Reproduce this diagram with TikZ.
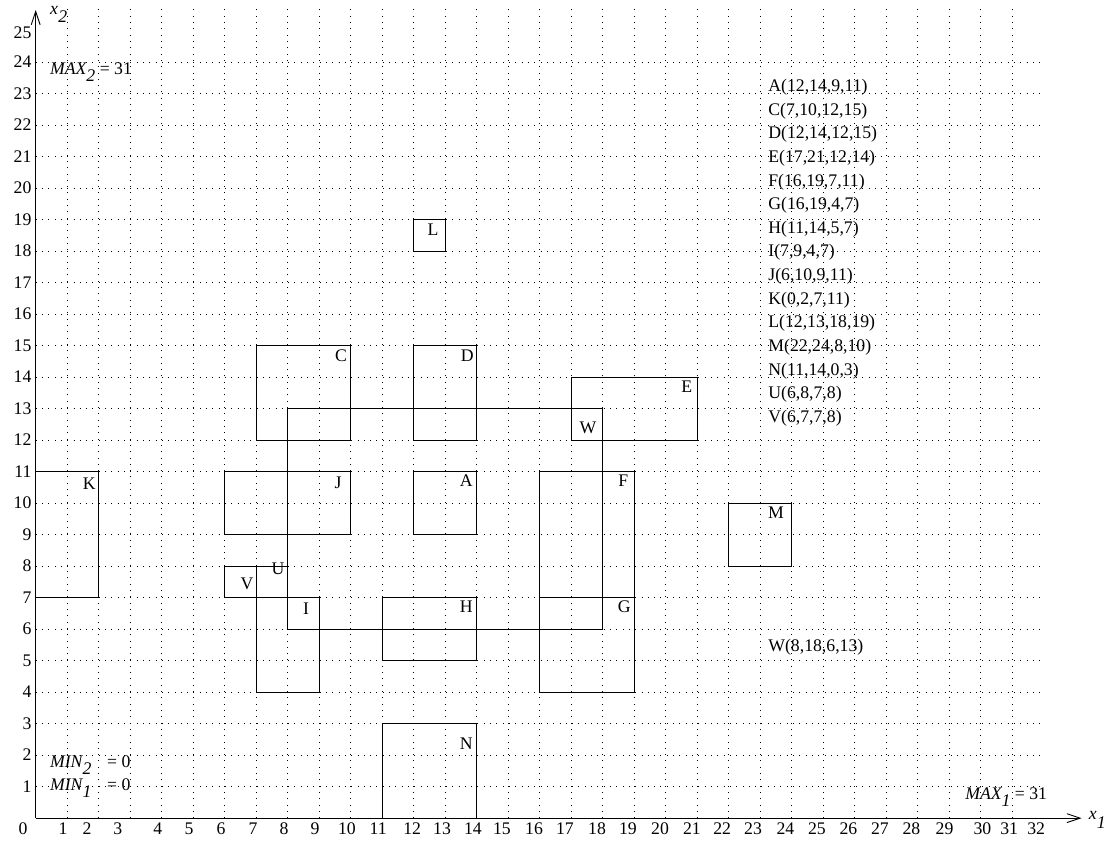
\documentclass[tikz,border=0pt]{standalone}
\usepackage{fontspec}
\setmainfont{Liberation Serif}
\usetikzlibrary{arrows.meta}
\newcommand{\lowsub}[2][7pt]{\raisebox{-#1}{\itshape #2}}
\begin{document}
\begin{tikzpicture}[x=1cm,y=1cm,font=\fontsize{16}{19}\selectfont,
  every node/.style={inner sep=0pt},
  gridline/.style={line width=0.55pt,dash pattern=on 0.8pt off 4.9pt},
  box/.style={line width=0.9pt},
  axis/.style={line width=0.8pt,arrows=-{Straight Barb[length=12pt,width=8pt]}}]
\useasboundingbox (-1.133,-0.73) rectangle (34.26,25.97);
% grid
\foreach \pos in {1,...,31}
   \draw[gridline] (\pos,0) -- (\pos,25.75);
\foreach \pos in {1,...,24}
   \draw[gridline] (0,\pos) -- (32,\pos);
% axes
\coordinate (o) at (0,0);
\coordinate (xtip) at (33.2,0);
\coordinate (ytip) at (0,25.65);
\draw[axis] (o) -- (xtip);
\draw[axis] (o) -- (ytip);
\node[anchor=west] (xone) at (33.42,-0.05) {\itshape x\kern0.3pt\lowsub[8pt]{1}};
\node[anchor=west] (xtwo) at (0.45,25.5) {\itshape x\kern0.3pt\lowsub[7pt]{2}};
\foreach \n/\p in {0/-0.4,1/0.87,2/1.63,3/2.61,4/3.88,5/4.87,6/5.88,7/6.9,8/7.88,9/8.87,
    10/9.88,11/10.87,12/11.95,13/12.9,14/13.88,15/14.8,16/15.82,17/16.8,18/17.82,19/18.8,
    20/19.82,21/20.83,22/21.79,23/22.77,24/23.8,25/24.8,26/25.8,27/26.8,28/27.8,29/28.85,
    30/30.05,31/30.9,32/31.76}
   \node (xt\n) at (\p,-0.33) {\n};
\foreach \n in {1,...,24}
   \node[anchor=east] (yt\n) at (-0.13,\n) {\n};
\node[anchor=east] (yt25) at (-0.13,24.92) {25};
% rectangles: name / x1 / x2 / y1 / y2 / label position
\foreach \n/\xa/\xb/\ya/\yb/\lx/\ly in {A/12/14/9/11/13.67/10.7, C/7/10/12/15/9.69/14.67,
    D/12/14/12/15/13.7/14.67, E/17/21/12/14/20.67/13.68, F/16/19/7/11/18.65/10.7,
    G/16/19/4/7/18.68/6.7, H/11/14/5/7/13.67/6.7, I/7/9/4/7/8.58/6.66,
    J/6/10/9/11/9.6/10.63, K/0/2/7/11/1.7/10.63, L/12/13/18/19/12.61/18.67,
    M/22/24/8/10/23.5/9.68, N/11/14/0/3/13.67/2.35, U/6/8/7/8/7.69/7.9,
    V/6/7/7/8/6.71/7.43, W/8/18/6/13/17.53/12.4}
{
   \draw[box] (\xa,\ya) rectangle (\xb,\yb);
   \node (lab\n) at (\lx,\ly) {\n};
}
% list of the rectangles
\foreach \t [count=\i] in {{A(12,14,9,11)},{C(7,10,12,15)},{D(12,14,12,15)},{E(17,21,12,14)},
    {F(16,19,7,11)},{G(16,19,4,7)},{H(11,14,5,7)},{I(7,9,4,7)},{J(6,10,9,11)},{K(0,2,7,11)},
    {L(12,13,18,19)},{M(22,24,8,10)},{N(11,14,0,3)},{U(6,8,7,8)},{V(6,7,7,8)}}
   \node[anchor=west] (list\i) at ({23.25},{23.95-0.75*\i}) {\t};
\node[anchor=west] (listW) at (23.25,5.43) {W(8,18,6,13)};
% bounds
\node[anchor=west] (maxtwo) at (0.45,23.68) {\itshape MAX\lowsub{2}\upshape\hspace{4pt}= 31};
\node[anchor=west] (mintwo) at (0.45,1.68) {\itshape MIN\lowsub{2}\upshape\hspace{0.5cm}= 0};
\node[anchor=west] (minone) at (0.45,0.95) {\itshape MIN\lowsub{1}\upshape\hspace{0.5cm}= 0};
\node[anchor=west] (maxone) at (29.5,0.67) {\itshape MAX\lowsub{1}\upshape\hspace{4pt}= 31};
\end{tikzpicture}
\end{document}
